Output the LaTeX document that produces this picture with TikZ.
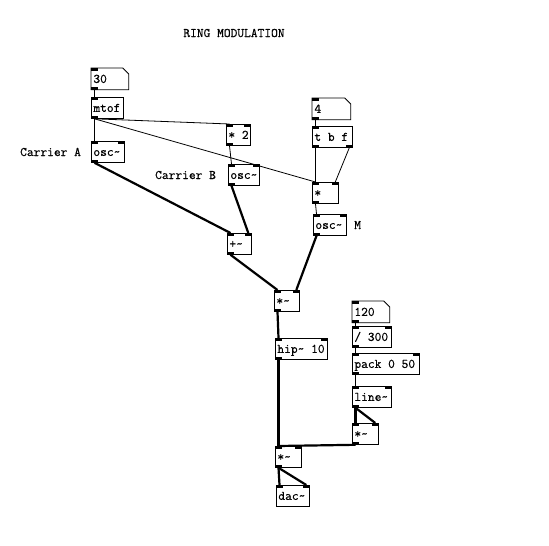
\documentclass[tikz,border=0pt]{standalone}
\usepackage{fontspec}
\newfontfamily\pdfont{Latin Modern Mono}[WordSpace={1,0,0},FakeBold=0.6]
\begin{document}
\begin{tikzpicture}[x=1pt,y=-1pt,
  pd/.style={draw=black, line width=0.8pt, rectangle, anchor=north west,
    inner xsep=2pt, inner ysep=0pt, minimum height=21pt,
    text height=8pt, text depth=0pt, font=\pdfont\fontsize{13.1}{14}\selectfont},
  pdnum/.style={pd, draw=none},
  cmt/.style={anchor=west, inner sep=0pt, font=\pdfont\fontsize{13.1}{14}\selectfont},
  cthin/.style={line width=0.8pt},
  cthick/.style={line width=2.2pt}]
\fill[white] (0,0) rectangle (549,546);
\useasboundingbox (0,0) rectangle (549,546);
\newcommand\pdbox[6][pd]{\node[#1] (#2) at (#3,#4) {\makebox[#5pt][l]{#6}};}
\newcommand\inL[1]{\fill (#1.north west) rectangle ++(7,3);}
\newcommand\inR[1]{\fill (#1.north east) rectangle ++(-7,3);}
\newcommand\outL[1]{\fill (#1.south west) rectangle ++(7,-3);}
\newcommand\outR[1]{\fill (#1.south east) rectangle ++(-7,-3);}
\newcommand\numframe[1]{\draw[line width=0.8pt] (#1.north west) -- ([xshift=-6pt]#1.north east) -- ([yshift=-6pt]#1.north east) -- (#1.south east) -- (#1.south west) -- cycle;}
\newcommand\tl{\textasciitilde{}}

% title and comments
\node[cmt, anchor=center] (title) at (234,33) {RING MODULATION};
\node[cmt] (cA) at (20,152) {Carrier A};
\node[cmt] (cB) at (155,175) {Carrier B};
\node[cmt] (cM) at (354,225) {M};

% boxes
\pdbox[pdnum]{n30}{91}{68}{33}{30}
\pdbox{mtof}{91}{97}{28}{mtof}
\pdbox{oscA}{91}{141}{29}{osc\tl}
\pdbox{times2}{226}{124}{20}{* 2}
\pdbox{oscB}{228}{164}{27}{osc\tl}
\pdbox{plus}{227}{233}{20}{+\tl}
\pdbox[pdnum]{n4}{312}{98}{34}{4}
\pdbox{tbf}{312}{126}{36}{t b f}
\pdbox{mul}{312}{182}{22}{*}
\pdbox{oscM}{313}{214}{29}{osc\tl}
\pdbox{sm1}{274}{290}{21}{*\tl}
\pdbox{hip}{275}{338}{48}{hip\tl{} 10}
\pdbox[pdnum]{n120}{352}{301}{33}{120}
\pdbox{div}{352}{326}{35}{/ 300}
\pdbox{pack}{352}{353}{63}{pack 0 50}
\pdbox{line}{352}{386}{35}{line\tl}
\pdbox{sm2}{352}{423}{22}{*\tl}
\pdbox{sm3}{275}{446}{22}{*\tl}
\pdbox{dac}{276}{485}{29}{dac\tl}

\numframe{n30}\numframe{n4}\numframe{n120}

% ports
\inL{n30}\outL{n30}
\inL{mtof}\outL{mtof}
\inL{oscA}\inR{oscA}\outL{oscA}
\inL{times2}\inR{times2}\outL{times2}
\inL{oscB}\inR{oscB}\outL{oscB}
\inL{plus}\inR{plus}\outL{plus}
\inL{n4}\outL{n4}
\inL{tbf}\outL{tbf}\outR{tbf}
\inL{mul}\inR{mul}\outL{mul}
\inL{oscM}\inR{oscM}\outL{oscM}
\inL{sm1}\inR{sm1}\outL{sm1}
\inL{hip}\inR{hip}\outL{hip}
\inL{n120}\outL{n120}
\inL{div}\inR{div}\outL{div}
\inL{pack}\inR{pack}\outL{pack}
\inL{line}\inR{line}\outL{line}
\inL{sm2}\inR{sm2}\outL{sm2}
\inL{sm3}\inR{sm3}\outL{sm3}
\inL{dac}\inR{dac}

% control connections
\draw[cthin] ([xshift=3.5pt]n30.south west) -- ([xshift=3.5pt]mtof.north west);
\draw[cthin] ([xshift=3.5pt]mtof.south west) -- ([xshift=3.5pt]oscA.north west);
\draw[cthin] ([xshift=3.5pt]mtof.south west) -- ([xshift=3.5pt]times2.north west);
\draw[cthin] ([xshift=3.5pt]mtof.south west) -- ([xshift=3.5pt]mul.north west);
\draw[cthin] ([xshift=3.5pt]times2.south west) -- ([xshift=3.5pt]oscB.north west);
\draw[cthin] ([xshift=3.5pt]n4.south west) -- ([xshift=3.5pt]tbf.north west);
\draw[cthin] ([xshift=3.5pt]tbf.south west) -- ([xshift=3.5pt]mul.north west);
\draw[cthin] ([xshift=-3.5pt]tbf.south east) -- ([xshift=-3.5pt]mul.north east);
\draw[cthin] ([xshift=3.5pt]mul.south west) -- ([xshift=3.5pt]oscM.north west);
\draw[cthin] ([xshift=3.5pt]n120.south west) -- ([xshift=3.5pt]div.north west);
\draw[cthin] ([xshift=3.5pt]div.south west) -- ([xshift=3.5pt]pack.north west);
\draw[cthin] ([xshift=3.5pt]pack.south west) -- ([xshift=3.5pt]line.north west);

% signal connections
\draw[cthick] ([xshift=3.5pt]oscA.south west) -- ([xshift=3.5pt]plus.north west);
\draw[cthick] ([xshift=3.5pt]oscB.south west) -- ([xshift=-3.5pt]plus.north east);
\draw[cthick] ([xshift=3.5pt]plus.south west) -- ([xshift=3.5pt]sm1.north west);
\draw[cthick] ([xshift=3.5pt]oscM.south west) -- ([xshift=-3.5pt]sm1.north east);
\draw[cthick] ([xshift=3.5pt]sm1.south west) -- ([xshift=3.5pt]hip.north west);
\draw[cthick] ([xshift=3.5pt]hip.south west) -- ([xshift=3.5pt]sm3.north west);
\draw[cthick] ([xshift=3.5pt]line.south west) -- ([xshift=3.5pt]sm2.north west);
\draw[cthick] ([xshift=3.5pt]line.south west) -- ([xshift=-3.5pt]sm2.north east);
\draw[cthick] ([xshift=3.5pt]sm2.south west) -- ([xshift=3.5pt]sm3.north west);
\draw[cthick] ([xshift=3.5pt]sm3.south west) -- ([xshift=3.5pt]dac.north west);
\draw[cthick] ([xshift=3.5pt]sm3.south west) -- ([xshift=-3.5pt]dac.north east);
\end{tikzpicture}
\end{document}
